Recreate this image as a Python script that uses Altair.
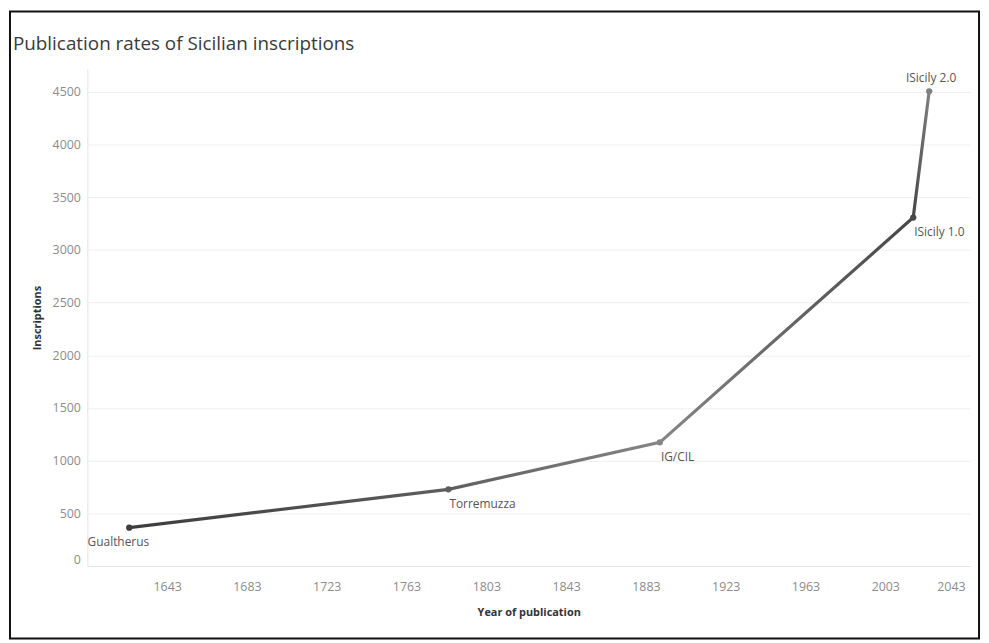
import altair as alt
import pandas as pd

# ---- data ----
labels = ["Gualtherus", "Torremuzza", "IG/CIL", "ISicily 1.0", "ISicily 2.0"]
years = [1624, 1784, 1890, 2017, 2025]
counts = [364, 728, 1174, 3308, 4506]
x_ticks = [1643, 1683, 1723, 1763, 1803, 1843, 1883, 1923, 1963, 2003, 2043]
y_ticks = [0, 500, 1000, 1500, 2000, 2500, 3000, 3500, 4000, 4500]
title_text = "Publication rates of Sicilian inscriptions"

# ---- styles ----
point_colors = ["#3d3d3d", "#5e5e5e", "#868686", "#474747", "#808080"]
FONT = "Open Sans"
W, H = 890, 501

df = pd.DataFrame({"label": labels, "year": years, "count": counts})

y0, y1 = min(years), max(years)
stops = [alt.GradientStop(offset=(yr - y0) / (y1 - y0), color=c)
         for yr, c in zip(years, point_colors)]
line_grad = alt.Gradient(gradient="linear", stops=stops, x1=0, x2=1, y1=0, y2=0)

x_enc = alt.X(
    "year:Q",
    title="Year of publication",
    scale=alt.Scale(domain=[1603, 2045.5], nice=False, zero=False),
    axis=alt.Axis(
        values=x_ticks, format="d", grid=False, ticks=False, tickSize=0,
        labelPadding=15, labelFlush=8, domainColor="#e4e4e4",
        labelColor="#8c8c8c", labelFontSize=12.5, labelFont=FONT,
        titleFont=FONT, titleFontSize=11, titleFontWeight="bold",
        titleColor="#333333", titlePadding=13,
    ),
)
y_enc = alt.Y(
    "count:Q",
    title="Inscriptions",
    scale=alt.Scale(domain=[0, 4717], nice=False),
    axis=alt.Axis(
        values=y_ticks, format="d", grid=True, gridColor="#efefef", ticks=False,
        tickSize=0, labelPadding=7, labelFlush=5, domainColor="#e4e4e4",
        labelColor="#8c8c8c", labelFontSize=12.5, labelFont=FONT,
        titleFont=FONT, titleFontSize=11, titleFontWeight="bold",
        titleColor="#333333", titlePadding=10,
    ),
)

base = alt.Chart(df)

line = base.mark_line(color=line_grad, strokeWidth=3.2).encode(x=x_enc, y=y_enc)

points = base.mark_circle(size=40, opacity=1).encode(
    x="year:Q", y="count:Q",
    color=alt.Color("label:N", scale=alt.Scale(domain=labels, range=point_colors),
                    legend=None),
)

text_style = dict(font=FONT, fontSize=12, color="#555555", baseline="middle")

below = base.transform_filter(
    alt.FieldOneOfPredicate(field="label", oneOf=["Torremuzza", "IG/CIL", "ISicily 1.0"])
).mark_text(align="left", dx=1, dy=15, **text_style).encode(
    x="year:Q", y="count:Q", text="label:N")

gual = base.transform_filter(
    alt.FieldEqualPredicate(field="label", equal="Gualtherus")
).mark_text(align="left", dx=-42, dy=14, **text_style).encode(
    x="year:Q", y="count:Q", text="label:N")

top = base.transform_filter(
    alt.FieldEqualPredicate(field="label", equal="ISicily 2.0")
).mark_text(align="center", dx=2, dy=-13, **text_style).encode(
    x="year:Q", y="count:Q", text="label:N")

one = pd.DataFrame({"t": [title_text]})

title = alt.Chart(one).mark_text(
    align="left", baseline="alphabetic", font=FONT, fontSize=19,
    color="#3a3a3a"
).encode(x=alt.value(-75), y=alt.value(-19), text="t:N")

border = alt.Chart(one).mark_rect(
    fill=None, stroke="#111111", strokeWidth=2
).encode(x=alt.value(-78), x2=alt.value(899), y=alt.value(-58), y2=alt.value(574))

chart = alt.layer(line, points, below, gual, top, title, border).properties(
    width=W, height=H,
    autosize=alt.AutoSizeParams(type="none"),
    padding={"left": 80, "top": 59, "right": 11, "bottom": 75},
).configure_view(stroke=None)

chart.save("out.html", embed_options={"renderer": "svg", "actions": False})
